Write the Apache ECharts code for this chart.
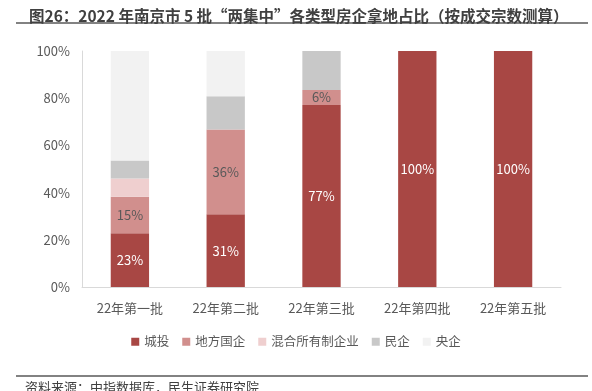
<!DOCTYPE html>
<html>
<head>
<meta charset="utf-8">
<script src="https://cdn.jsdelivr.net/npm/echarts@6/dist/echarts.min.js"></script>
<style>
  html, body { margin: 0; padding: 0; background: #fff; }
  #main { width: 592px; height: 391px; }
</style>
</head>
<body>
<div id="main"></div>
<script>
// 批次
var categories = ['22年第一批', '22年第二批', '22年第三批', '22年第四批', '22年第五批'];
// 各类型房企占比 (%)
var chengtou = [22.8, 30.8, 77.1, 100, 100];   // 城投
var difang   = [15.4, 35.9, 6.4, 0, 0];        // 地方国企
var hunhe    = [7.8, 0, 0, 0, 0];              // 混合所有制企业
var minqi    = [7.6, 14.1, 16.5, 0, 0];        // 民企
var yangqi   = [46.4, 19.2, 0, 0, 0];          // 央企
var yTicks = [0, 20, 40, 60, 80, 100];

var font = '"Microsoft YaHei", "Noto Sans CJK SC", sans-serif';
var chart = echarts.init(document.getElementById('main'));

function mkSeries(name, data, color, labelColor) {
    return {
        name: name,
        type: 'bar',
        stack: 'total',
        barWidth: '40%',
        data: data,
        itemStyle: { color: color },
        label: {
            show: !!labelColor,
            position: 'inside',
            color: labelColor,
            fontSize: 13,
            fontFamily: font,
            formatter: function (p) {
                return p.value > 0 ? Math.round(p.value) + '%' : '';
            }
        }
    };
}

var option = {
    backgroundColor: '#fff',
    animation: false,
    textStyle: { fontFamily: font },
    title: {
        text: '图26：2022 年南京市 5 批“两集中”各类型房企拿地占比（按成交宗数测算）',
        left: 24,
        top: 3,
        textStyle: { fontSize: 15.5, fontWeight: 'bold', color: '#404040', fontFamily: font }
    },
    graphic: [
        { type: 'line', shape: { x1: 16, y1: 23, x2: 588, y2: 23 }, style: { stroke: '#595959', lineWidth: 1.5 } },
        { type: 'line', shape: { x1: 16, y1: 376, x2: 588, y2: 376 }, style: { stroke: '#595959', lineWidth: 1.5 } },
        { type: 'text', left: 25, top: 381, style: { text: '资料来源：中指数据库，民生证券研究院', fontSize: 13, fill: '#404040', fontFamily: font } }
    ],
    legend: {
        bottom: 38,
        left: 'center',
        itemWidth: 8,
        itemHeight: 8,
        itemGap: 13,
        icon: 'rect',
        textStyle: { fontSize: 12.5, color: '#595959', fontFamily: font },
        data: ['城投', '地方国企', '混合所有制企业', '民企', '央企']
    },
    grid: { left: 82, right: 31, top: 51, bottom: 104 },
    xAxis: {
        type: 'category',
        data: categories,
        axisLine: { lineStyle: { color: '#d9d9d9', width: 1 } },
        axisTick: { show: false },
        axisLabel: { color: '#595959', fontSize: 13, margin: 15, fontFamily: font }
    },
    yAxis: {
        type: 'value',
        min: yTicks[0],
        max: yTicks[yTicks.length - 1],
        interval: 20,
        axisLine: { show: true, lineStyle: { color: '#d9d9d9' } },
        axisTick: { show: false },
        splitLine: { show: false },
        axisLabel: { color: '#595959', fontSize: 13, margin: 12, fontFamily: font, formatter: '{value}%' }
    },
    series: [
        mkSeries('城投', chengtou, '#a84744', '#ffffff'),
        mkSeries('地方国企', difang, '#d18f8d', '#595959'),
        mkSeries('混合所有制企业', hunhe, '#efcfcf', null),
        mkSeries('民企', minqi, '#c8c8c8', null),
        mkSeries('央企', yangqi, '#f2f2f2', null)
    ]
};
chart.setOption(option);
</script>
</body>
</html>
